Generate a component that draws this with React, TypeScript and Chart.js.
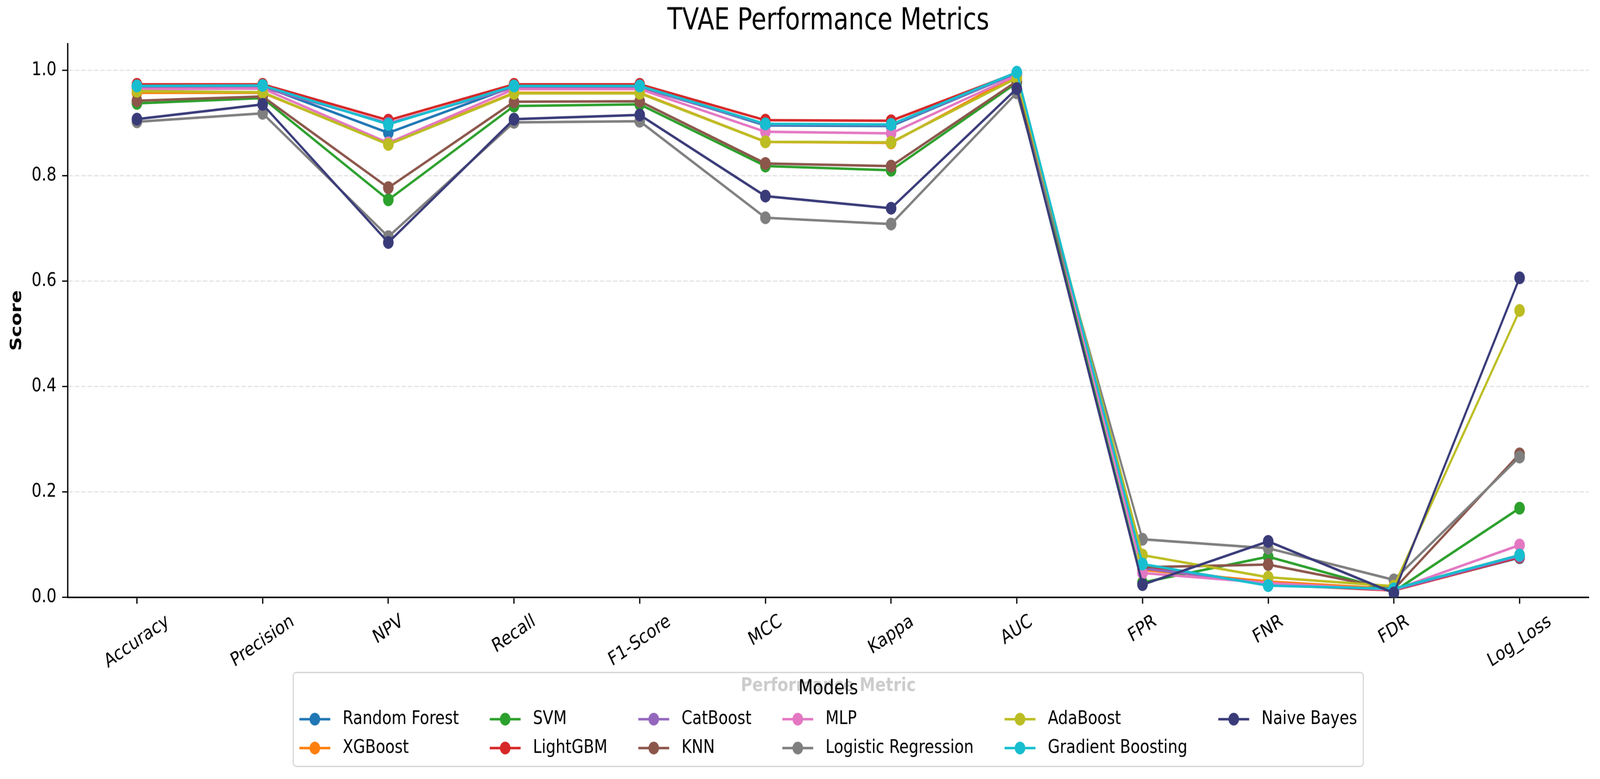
import React, { useEffect, useRef } from 'react';
import { Chart, ChartConfiguration, registerables } from 'chart.js';

Chart.register(...registerables);

const metrics = ['Accuracy', 'Precision', 'NPV', 'Recall', 'F1-Score', 'MCC', 'Kappa', 'AUC', 'FPR', 'FNR', 'FDR', 'Log_Loss'];

const models = [
  'Random Forest', 'XGBoost', 'SVM', 'LightGBM', 'CatBoost', 'KNN',
  'MLP', 'Logistic Regression', 'AdaBoost', 'Gradient Boosting', 'Naive Bayes',
];

const colors = [
  '#1f77b4', '#ff7f0e', '#2ca02c', '#d62728', '#9467bd', '#8c564b',
  '#e377c2', '#7f7f7f', '#bcbd22', '#17becf', '#393b79',
];

// one value per metric, same order as `metrics`
const randomForest = [0.969, 0.970, 0.881, 0.969, 0.969, 0.895, 0.894, 0.994, 0.060, 0.025, 0.014, 0.075];
const xgBoost = [0.957, 0.957, 0.860, 0.957, 0.957, 0.864, 0.862, 0.990, 0.052, 0.030, 0.016, 0.080];
const svm = [0.937, 0.947, 0.754, 0.932, 0.935, 0.818, 0.810, 0.976, 0.028, 0.077, 0.011, 0.169];
const lightGbm = [0.973, 0.973, 0.905, 0.973, 0.973, 0.905, 0.904, 0.995, 0.058, 0.024, 0.013, 0.076];
const catBoost = [0.967, 0.967, 0.899, 0.967, 0.967, 0.897, 0.896, 0.994, 0.055, 0.026, 0.014, 0.078];
const knn = [0.942, 0.950, 0.777, 0.940, 0.941, 0.823, 0.818, 0.979, 0.057, 0.062, 0.015, 0.272];
const mlp = [0.964, 0.965, 0.862, 0.964, 0.964, 0.883, 0.880, 0.990, 0.046, 0.027, 0.014, 0.099];
const logisticRegression = [0.902, 0.918, 0.684, 0.901, 0.903, 0.720, 0.708, 0.957, 0.110, 0.093, 0.033, 0.266];
const adaBoost = [0.960, 0.958, 0.859, 0.956, 0.956, 0.864, 0.863, 0.985, 0.080, 0.038, 0.021, 0.544];
const gradientBoosting = [0.970, 0.971, 0.897, 0.970, 0.970, 0.898, 0.897, 0.996, 0.063, 0.022, 0.016, 0.080];
const naiveBayes = [0.907, 0.935, 0.673, 0.907, 0.915, 0.761, 0.738, 0.965, 0.024, 0.106, 0.008, 0.606];

const series = [
  randomForest, xgBoost, svm, lightGbm, catBoost, knn,
  mlp, logisticRegression, adaBoost, gradientBoosting, naiveBayes,
];

const yTicks = [0, 0.2, 0.4, 0.6, 0.8, 1.0];

// the canvas is drawn 4248x1700 and stretched over the whole viewport (the reference is stretched the same way)
const W = 4248;
const H = 1700;
const PLOT_BOTTOM = 1303.4;
const FONT = '"DejaVu Sans", sans-serif';
const LINE_W = 5.5;
const MARKER_R = 14;

const overlay = {
  id: 'overlay',
  afterDraw(chart: Chart) {
    const { ctx, chartArea } = chart;
    const xScale = chart.scales.x;

    // rotated category labels, centred under each tick
    ctx.save();
    const tickFs = 41.7;
    ctx.font = `${tickFs}px ${FONT}`;
    ctx.fillStyle = '#000';
    ctx.textAlign = 'center';
    ctx.textBaseline = 'middle';
    const ang = Math.PI / 6;
    const labelTop = chartArea.bottom + 29;
    metrics.forEach((m, i) => {
      const w = ctx.measureText(m).width;
      const bh = w * Math.sin(ang) + tickFs * 1.16 * Math.cos(ang);
      ctx.save();
      ctx.translate(xScale.getPixelForValue(i), labelTop + bh / 2);
      ctx.rotate(-ang);
      ctx.fillText(m, 0, 0);
      ctx.restore();
    });
    ctx.restore();

    // legend, 6 columns filled top to bottom
    ctx.save();
    const fs = 41;
    ctx.font = `${fs}px ${FONT}`;
    const ncol = 6;
    const cols: number[][] = [];
    for (let c = 0; c < ncol; c++) {
      cols.push(models.map((_, i) => i).filter((i) => Math.floor(i / 2) === c));
    }
    const handleLen = 2 * fs;
    const handlePad = 0.8 * fs;
    const colSpace = 2 * fs;
    const borderPad = 0.4 * fs;
    const colW = cols.map((ids) => Math.max(...ids.map((i) => ctx.measureText(models[i]).width)));
    const contentW = colW.reduce((s, w) => s + handleLen + handlePad + w, 0) + colSpace * (ncol - 1);
    const boxW = contentW + 2 * borderPad;
    const cx = (chartArea.left + chartArea.right) / 2;
    const boxLeft = cx - boxW / 2;
    const boxTop = chartArea.bottom + 164;
    const boxH = 205;

    ctx.beginPath();
    ctx.roundRect(boxLeft, boxTop, boxW, boxH, 8);
    ctx.fillStyle = 'rgba(255,255,255,0.8)';
    ctx.fill();
    ctx.lineWidth = 3;
    ctx.strokeStyle = 'rgba(204,204,204,0.8)';
    ctx.stroke();

    ctx.fillStyle = '#000';
    ctx.textAlign = 'center';
    ctx.textBaseline = 'middle';
    ctx.font = `45px ${FONT}`;
    ctx.fillText('Models', cx, boxTop + 36);

    ctx.font = `${fs}px ${FONT}`;
    ctx.textAlign = 'left';
    const rowY = [boxTop + 102, boxTop + 165];
    let x0 = boxLeft + borderPad;
    cols.forEach((ids, c) => {
      ids.forEach((i, r) => {
        const y = rowY[r];
        ctx.strokeStyle = colors[i];
        ctx.lineWidth = LINE_W;
        ctx.beginPath();
        ctx.moveTo(x0, y);
        ctx.lineTo(x0 + handleLen, y);
        ctx.stroke();
        ctx.fillStyle = colors[i];
        ctx.beginPath();
        ctx.arc(x0 + handleLen / 2, y, MARKER_R, 0, Math.PI * 2);
        ctx.fill();
        ctx.fillStyle = '#000';
        ctx.fillText(models[i], x0 + handleLen + handlePad, y);
      });
      x0 += handleLen + handlePad + colW[c] + colSpace;
    });
    ctx.restore();
  },
};

const App = () => {
  const ref = useRef<HTMLCanvasElement | null>(null);

  useEffect(() => {
    const canvas = ref.current;
    if (!canvas) return;

    const config: ChartConfiguration<'line'> = {
      type: 'line',
      data: {
        datasets: models.map((name, i) => ({
          label: name,
          data: series[i].map((v, j) => ({ x: j, y: v })),
          borderColor: colors[i],
          backgroundColor: colors[i],
          pointBackgroundColor: colors[i],
          pointBorderColor: colors[i],
          pointBorderWidth: 0,
          pointRadius: MARKER_R,
          borderWidth: LINE_W,
          tension: 0,
          fill: false,
          order: models.length - i,
        })),
      },
      options: {
        animation: false,
        responsive: false,
        devicePixelRatio: 1,
        layout: { padding: { left: 0, right: 30, top: 0, bottom: 0 } },
        plugins: {
          legend: { display: false },
          tooltip: { enabled: false },
          title: {
            display: true,
            text: 'TVAE Performance Metrics',
            fullSize: false,
            color: '#000',
            font: { family: FONT, size: 65, weight: 'normal' },
            padding: { top: 8, bottom: 9.5 },
          },
        },
        scales: {
          x: {
            type: 'linear',
            min: -0.55,
            max: 11.55,
            afterBuildTicks: (s) => {
              s.ticks = metrics.map((_, i) => ({ value: i }));
            },
            afterFit: (s) => {
              s.height = H - PLOT_BOTTOM;
            },
            ticks: { display: false },
            grid: {
              drawOnChartArea: false,
              drawTicks: true,
              tickLength: 14,
              tickWidth: 3.3,
              tickColor: '#000',
            },
            border: { color: '#000', width: 3.3 },
            title: {
              display: true,
              text: 'Performance Metric',
              color: '#000',
              font: { family: FONT, size: 41.7, weight: 'bold' },
              padding: { top: 0, bottom: 178 },
            },
          },
          y: {
            min: 0,
            max: 1.05,
            afterBuildTicks: (s) => {
              s.ticks = yTicks.map((v) => ({ value: v }));
            },
            afterFit: (s) => {
              s.width = 180;
            },
            ticks: {
              padding: 15,
              color: '#000',
              font: { family: FONT, size: 41.7 },
              callback: (v) => Number(v).toFixed(1),
            },
            grid: {
              color: '#e4e4e4',
              lineWidth: 2.8,
              tickLength: 15,
              tickWidth: 2.8,
              tickColor: '#000',
            },
            border: { color: '#000', width: 3.5, dash: [12, 5] },
            title: {
              display: true,
              text: 'Score',
              color: '#000',
              font: { family: FONT, size: 41.7, weight: 'bold' },
              padding: { top: 20, bottom: 0 },
            },
          },
        },
      },
      plugins: [overlay],
    };

    const chart = new Chart(canvas, config);

    return () => {
      chart.destroy();
    };
  }, []);

  return (
    <div style={{ position: 'fixed', left: 0, top: 0, width: '100vw', height: '100vh', background: '#fff' }}>
      <canvas
        ref={ref}
        width={W}
        height={H}
        style={{ display: 'block', width: '100vw', height: '100vh' }}
      />
    </div>
  );
};

export default App;
